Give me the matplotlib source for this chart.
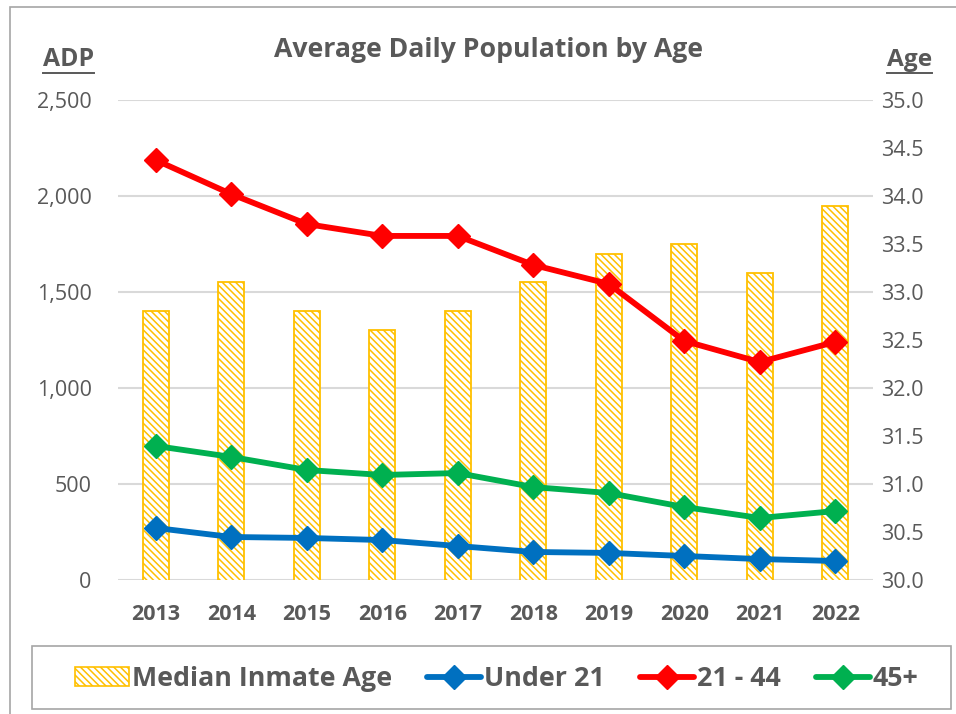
import matplotlib
matplotlib.use("Agg")
import matplotlib.pyplot as plt
from matplotlib.patches import Rectangle, Patch
from matplotlib.lines import Line2D
from matplotlib.ticker import FuncFormatter

years = ["2013", "2014", "2015", "2016", "2017", "2018", "2019", "2020", "2021", "2022"]
median_age = [32.8, 33.1, 32.8, 32.6, 32.8, 33.1, 33.4, 33.5, 33.2, 33.9]
under_21 = [271, 224, 219, 208, 177, 146, 141, 125, 109, 99]
age_21_44 = [2187, 2010, 1854, 1792, 1792, 1641, 1542, 1245, 1135, 1240]
age_45_plus = [698, 641, 573, 547, 557, 484, 453, 380, 323, 359]

plt.rcParams['font.family'] = ['Open Sans', 'DejaVu Sans']
plt.rcParams['hatch.linewidth'] = 1.1

GRAY = '#595959'
GOLD = '#FFC000'
BLUE = '#0070C0'
RED = '#FF0000'
GREEN = '#00B050'
HATCH = '\\' * 5

W, H = 956, 714
fig = plt.figure(figsize=(W / 100, H / 100), dpi=100)
renderer = fig.canvas.get_renderer()


def fit_width(txt, target_px):
    w = txt.get_window_extent(renderer=renderer).width
    txt.set_fontsize(txt.get_fontsize() * target_px / w)


# outer chart border
fig.patches.append(Rectangle((10 / W, -0.1), 1.1, 1 - 7 / H + 0.1, transform=fig.transFigure,
                             fill=False, edgecolor='#A6A6A6', linewidth=1.2))

pos = [118 / W, (H - 580) / H, (873 - 118) / W, 480 / H]
ax_b = fig.add_axes(pos)
ax_l = fig.add_axes(pos)
ax_l.patch.set_visible(False)

x = list(range(len(years)))

# bars (right axis, Age)
ax_b.bar(x, median_age, width=0.35, bottom=0, color='white', edgecolor=GOLD,
         hatch=HATCH, linewidth=1.3, zorder=2)
ax_b.set_ylim(30, 35)
ax_b.set_xlim(-0.5, 9.5)
ax_b.set_yticks([30 + 0.5 * i for i in range(11)])
ax_b.yaxis.set_major_formatter(FuncFormatter(lambda v, p: f"{v:.1f}"))
ax_b.yaxis.tick_right()
ax_b.grid(axis='y', color='#D9D9D9', linewidth=1.5, zorder=0)
for i, gl in enumerate(ax_b.get_ygridlines()):
    if i % 2 == 1:
        gl.set_visible(False)
ax_b.set_axisbelow(True)
ax_b.set_xticks(x)
ax_b.set_xticklabels(years, fontweight='bold')
ax_b.tick_params(axis='both', length=0, colors=GRAY, labelsize=15.5)
ax_b.tick_params(axis='x', pad=17, labelsize=15.5)
ax_b.tick_params(axis='y', pad=6)
for s in ax_b.spines.values():
    s.set_visible(False)

# lines (left axis, ADP)
mk = dict(marker='D', markersize=12, linewidth=4.2, solid_capstyle='round')
ax_l.plot(x, under_21, color=BLUE, label='Under 21', **mk)
ax_l.plot(x, age_21_44, color=RED, label='21 - 44', **mk)
ax_l.plot(x, age_45_plus, color=GREEN, label='45+', **mk)
ax_l.set_ylim(0, 2500)
ax_l.set_xlim(-0.5, 9.5)
ax_l.set_yticks(range(0, 2501, 500))
ax_l.yaxis.set_major_formatter(FuncFormatter(lambda v, p: f"{int(v):,}"))
ax_l.set_xticks([])
ax_l.tick_params(axis='y', length=0, colors=GRAY, labelsize=15.5, pad=19)
for s in ax_l.spines.values():
    s.set_visible(False)

# titles
t = fig.text(488 / W, 1 - 50 / H, 'Average Daily Population by Age', ha='center', va='center',
             fontsize=16, fontweight='bold', color=GRAY)
fit_width(t, 428)
t1 = fig.text(68.5 / W, 1 - 60 / H, 'ADP', ha='center', va='center', fontsize=15,
              fontweight='bold', color=GRAY)
fit_width(t1, 51)
t2 = fig.text(909.5 / W, 1 - 60 / H, 'Age', ha='center', va='center', fontsize=15,
              fontweight='bold', color=GRAY)
fit_width(t2, 45)
fig.add_artist(Line2D([43 / W, 94 / W], [1 - 72.5 / H] * 2, color=GRAY, linewidth=1.4))
fig.add_artist(Line2D([887 / W, 932 / W], [1 - 72.5 / H] * 2, color=GRAY, linewidth=1.4))

# legend
fig.patches.append(Rectangle((32 / W, 1 - 709 / H), (951 - 32) / W, (709 - 646) / H,
                             transform=fig.transFigure, fill=False, edgecolor='#A6A6A6',
                             linewidth=1.2))
handles = [Patch(facecolor='white', edgecolor=GOLD, hatch=HATCH, linewidth=1.2, label='Median Inmate Age'),
           Line2D([], [], color=BLUE, label='Under 21', **mk),
           Line2D([], [], color=RED, label='21 - 44', **mk),
           Line2D([], [], color=GREEN, label='45+', **mk)]
probe = fig.text(0, 0, 'Median Inmate Age', fontsize=17, fontweight='bold')
fit_width(probe, 260)
lsize = probe.get_fontsize()
probe.remove()
fs_px = lsize * 100 / 72

leg = fig.legend(handles=handles, loc='center', bbox_to_anchor=(497 / W, 1 - 679 / H), ncol=4,
                 frameon=False, prop={'weight': 'bold', 'size': lsize},
                 handlelength=54 / fs_px, handletextpad=3 / fs_px,
                 columnspacing=35 / fs_px, borderpad=0.2, handleheight=0.7)
for tx in leg.get_texts():
    tx.set_color(GRAY)

fig.savefig('out.png', dpi=100)
